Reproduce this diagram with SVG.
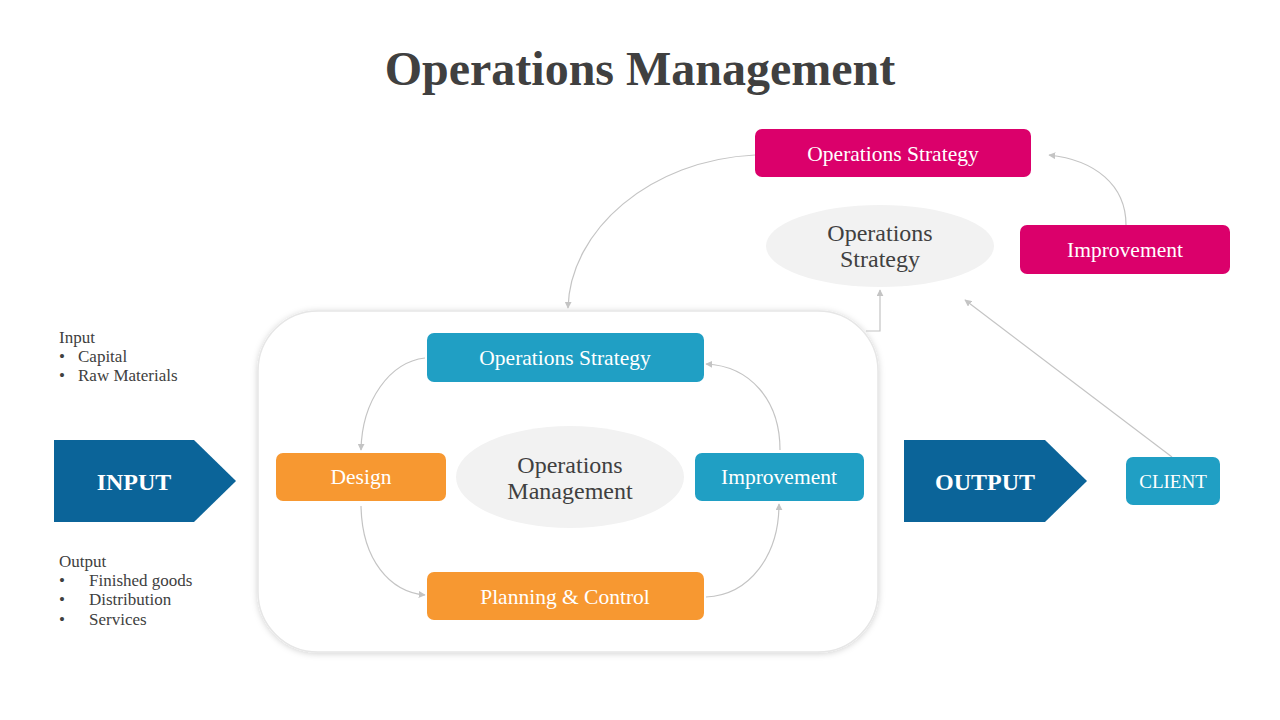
<svg xmlns="http://www.w3.org/2000/svg" width="1280" height="720" viewBox="0 0 1280 720">
<defs>
<style>
text{font-family:"Liberation Serif","DejaVu Serif",serif;}
.title{font-size:48px;font-weight:bold;fill:#404040;text-anchor:middle;}
.wt{fill:#fff;font-size:21.5px;text-anchor:middle;}
.gt{fill:#404040;font-size:24px;text-anchor:middle;}
.side{fill:#404040;font-size:17px;}
.big{fill:#fff;font-size:24px;font-weight:bold;text-anchor:middle;}
.pink{fill:#DB006B;}
.blue{fill:#209FC4;}
.orange{fill:#F79831;}
.dark{fill:#0B6499;}
.ell{fill:#F2F2F2;}
.conn{fill:none;stroke:#C4C4C4;stroke-width:1.2;marker-end:url(#ah);}
</style>
<marker id="ah" viewBox="0 0 10 10" refX="9" refY="5" markerWidth="7" markerHeight="7" orient="auto-start-reverse" markerUnits="userSpaceOnUse">
<path d="M0,0 L10,5 L0,10 z" fill="#C4C4C4"/>
</marker>
<filter id="sh" x="-10%" y="-10%" width="120%" height="120%">
<feGaussianBlur in="SourceAlpha" stdDeviation="3"/>
<feOffset dx="0" dy="1" result="b"/>
<feFlood flood-color="#000" flood-opacity="0.18"/>
<feComposite in2="b" operator="in"/>
<feMerge><feMergeNode/><feMergeNode in="SourceGraphic"/></feMerge>
</filter>
</defs>
<rect width="1280" height="720" fill="#fff"/>
<text class="title" x="640" y="85">Operations Management</text>

<g id="main-frame"><rect x="258" y="311" width="620" height="341" rx="60" fill="#fff" stroke="#E6E6E6" stroke-width="1.5" filter="url(#sh)"/></g>

<g id="connectors">
<path class="conn" d="M755,155 C650,160 570,230 568,308"/>
<path class="conn" d="M1126,225 C1126,185 1095,160 1049,155"/>
<path class="conn" d="M1172,457 L965,300"/>
<path class="conn" d="M866,331 L880,331 L880,290"/>
<path class="conn" d="M425,358 C390,362 362,400 361,450"/>
<path class="conn" d="M361,506 C362,560 390,592 425,595"/>
<path class="conn" d="M706,597 C750,595 779,555 779,504"/>
<path class="conn" d="M780,450 C780,400 750,366 706,364"/>
</g>

<g id="ops-strategy-top"><rect class="pink" x="755" y="129" width="276" height="48" rx="7"/><text class="wt" x="893" y="161">Operations Strategy</text></g>
<g id="ops-strategy-ellipse"><ellipse class="ell" cx="880" cy="246" rx="114" ry="41"/><text class="gt" x="880" y="241">Operations</text><text class="gt" x="880" y="267">Strategy</text></g>
<g id="improvement-top"><rect class="pink" x="1020" y="225" width="210" height="49" rx="7"/><text class="wt" x="1125" y="257">Improvement</text></g>

<g id="ops-strategy"><rect class="blue" x="427" y="333" width="277" height="49" rx="7"/><text class="wt" x="565" y="365">Operations Strategy</text></g>
<g id="design"><rect class="orange" x="276" y="453" width="170" height="48" rx="7"/><text class="wt" x="361" y="484">Design</text></g>
<g id="ops-mgmt"><ellipse class="ell" cx="570" cy="477" rx="114" ry="51"/><text class="gt" x="570" y="473">Operations</text><text class="gt" x="570" y="499">Management</text></g>
<g id="improvement"><rect class="blue" x="695" y="453" width="169" height="48" rx="7"/><text class="wt" x="779" y="484">Improvement</text></g>
<g id="planning"><rect class="orange" x="427" y="572" width="277" height="48" rx="7"/><text class="wt" x="565" y="604">Planning &amp; Control</text></g>

<g id="input"><polygon class="dark" points="54,440 194,440 236,481 194,522 54,522"/><text class="big" x="134" y="490">INPUT</text></g>
<g id="output"><polygon class="dark" points="904,440 1045,440 1087,481 1045,522 904,522"/><text class="big" x="985" y="490">OUTPUT</text></g>
<g id="client"><rect class="blue" x="1126" y="457" width="94" height="48" rx="7"/><text class="wt" x="1173" y="488" style="font-size:19px">CLIENT</text></g>

<g id="input-notes">
<text class="side" x="59" y="343">Input</text>
<text class="side" x="59" y="362">•</text><text class="side" x="78" y="362">Capital</text>
<text class="side" x="59" y="381">•</text><text class="side" x="78" y="381">Raw Materials</text>
</g>
<g id="output-notes">
<text class="side" x="59" y="567">Output</text>
<text class="side" x="59" y="586">•</text><text class="side" x="89" y="586">Finished goods</text>
<text class="side" x="59" y="605">•</text><text class="side" x="89" y="605">Distribution</text>
<text class="side" x="59" y="625">•</text><text class="side" x="89" y="625">Services</text>
</g>
</svg>
